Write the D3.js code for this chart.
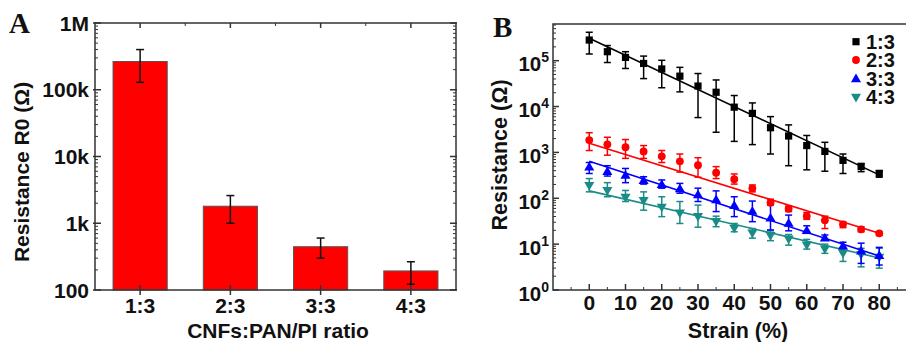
<!DOCTYPE html>
<html><head><meta charset="utf-8">
<script src="https://cdn.jsdelivr.net/npm/d3@7"></script>
<style>
body{margin:0;background:#fff;}
svg{display:block;}
text{font-family:"Liberation Sans",Arial,sans-serif;font-weight:bold;fill:#111;}
</style></head>
<body><svg id="c" width="906" height="342"></svg>
<script>
// ---------- Panel A data ----------
const catsA = ["1:3","2:3","3:3","4:3"];
const barVals = [265000, 1800, 445, 193];
const barErrHi = [400000, 2600, 600, 265];
const barErrLo = [129000, 1000, 300, 122];
const yTicksA = [100, 1000, 10000, 100000, 1000000];
const yTickLabelsA = ["100","1k","10k","100k","1M"];

// ---------- Panel B data ----------
const strain = [0,5,10,15,20,25,30,35,40,45,50,55,60,65,70,75,80];
const seriesNames = ["1:3","2:3","3:3","4:3"];
const seriesColors = ["#000000","#ff0000","#0000ff","#1a8c86"];
const seriesShapes = ["square","circle","triangle","triangleDown"];
const r13 = [282000,157000,118000,87000,66000,46000,28000,20500,9700,7100,3450,2280,1410,1050,670,490,350];
const r13Hi = [417000,214000,157000,126000,102000,71600,52500,38000,17400,12000,6030,3980,2340,1660,923,575,398];
const r13Lo = [140000,91200,67600,40700,25700,20900,5750,2750,1740,1480,923,513,417,389,347,380,288];
const r23 = [1860,1500,1300,1050,820,640,525,360,260,165,80,59,41,33,27,21,17.2];
const r23Hi = [2690,2140,1910,1410,1100,923,767,490,339,195,95.5,67.6,49,40.7,30.9,24,18.6];
const r23Lo = [1100,871,741,741,603,372,288,269,204,138,70.8,51.3,34.7,21.9,22.9,18.6,15.5];
const r33 = [490,390,323,250,205,165,122,95,71,53,38,29.3,20.3,13.9,9.3,7.2,5.8];
const r33Hi = [603,513,447,295,251,211,166,145,108,87,75,43,25.1,15.8,11,10.5,8.5];
const r33Lo = [347,305,219,204,166,129,85,51.3,39.8,30.9,20.4,19.5,17.2,12.3,8.1,3.8,3.5];
const r43 = [195,152,108,92,66,49,41,32,23,18,15.8,13.4,9.9,8.1,6.5,6.1,5.3];
const r43Hi = [269,219,148,138,108,85,71,40.7,28.2,21.9,19.5,16.2,12.7,10,8.1,8.1,8.1];
const r43Lo = [138,108,85,55,39.8,28.2,23.4,24,18.6,13.5,11.9,9.5,7.8,6.3,4.2,3.2,3.0];
const fitStrain = [0, 80];
const fit13 = [309000, 324];
const fit23 = [1580, 17.2];
const fit33 = [640, 5.5];
const fit43 = [145, 5.0];
const xTicksB = [0,10,20,30,40,50,60,70,80];
const yTicksB = [1,10,100,1000,10000,100000];
const yTickExpB = ["0","1","2","3","4","5"];

const svg = d3.select("#c");
svg.append("rect").attr("width",906).attr("height",342).attr("fill","#fff");
const axisColor = "#333";

// ================= Panel A =================
const A = {l:95, r:456, t:23, b:290};
const xA = d3.scaleBand().domain(catsA).range([A.l, A.r]).paddingInner(0.4).paddingOuter(0.2);
const yA = d3.scaleLog().domain([100, 1e6]).range([A.b, A.t]);
const gA = svg.append("g");

gA.selectAll("rect.bar").data(catsA).enter().append("rect")
  .attr("x", d=>xA(d)).attr("width", xA.bandwidth())
  .attr("y", (d,i)=>yA(barVals[i])).attr("height",(d,i)=>A.b - yA(barVals[i]))
  .attr("fill","#ff0000").attr("stroke","#555").attr("stroke-width",1);

catsA.forEach((c,i)=>{
  const cx = xA(c)+xA.bandwidth()/2;
  const g = gA.append("g").attr("stroke","#111").attr("stroke-width",1.5);
  g.append("line").attr("x1",cx).attr("x2",cx).attr("y1",yA(barErrHi[i])).attr("y2",yA(barErrLo[i]));
  g.append("line").attr("x1",cx-4).attr("x2",cx+4).attr("y1",yA(barErrHi[i])).attr("y2",yA(barErrHi[i]));
  g.append("line").attr("x1",cx-4).attr("x2",cx+4).attr("y1",yA(barErrLo[i])).attr("y2",yA(barErrLo[i]));
});

// frame
gA.append("rect").attr("x",A.l).attr("y",A.t).attr("width",A.r-A.l).attr("height",A.b-A.t)
  .attr("fill","none").attr("stroke",axisColor).attr("stroke-width",1.5);

const minorA = [];
for (let e=2;e<6;e++) for (let m=2;m<10;m++) minorA.push(m*Math.pow(10,e));
minorA.forEach(v=>{
  gA.append("line").attr("x1",A.l).attr("x2",A.l+3).attr("y1",yA(v)).attr("y2",yA(v)).attr("stroke",axisColor).attr("stroke-width",1);
  gA.append("line").attr("x1",A.r).attr("x2",A.r-3).attr("y1",yA(v)).attr("y2",yA(v)).attr("stroke",axisColor).attr("stroke-width",1);
});
yTicksA.forEach((v,i)=>{
  gA.append("line").attr("x1",A.l-2).attr("x2",A.l+6).attr("y1",yA(v)).attr("y2",yA(v)).attr("stroke",axisColor).attr("stroke-width",1.5);
  gA.append("line").attr("x1",A.r+1).attr("x2",A.r-6).attr("y1",yA(v)).attr("y2",yA(v)).attr("stroke",axisColor).attr("stroke-width",1.5);
  gA.append("text").attr("x",89).attr("y",yA(v)).attr("dy","0.36em").attr("text-anchor","end")
    .attr("font-size",21).text(yTickLabelsA[i]);
});
catsA.forEach((c,i)=>{
  const cx = xA(c)+xA.bandwidth()/2;
  gA.append("line").attr("x1",cx).attr("x2",cx).attr("y1",A.b-5).attr("y2",A.b+5).attr("stroke",axisColor).attr("stroke-width",1.5);
  gA.append("line").attr("x1",cx).attr("x2",cx).attr("y1",A.t).attr("y2",A.t+5).attr("stroke",axisColor).attr("stroke-width",1.5);
  gA.append("text").attr("x",cx).attr("y",313).attr("text-anchor","middle").attr("font-size",21).text(c);
});
for (let i=1;i<catsA.length;i++){
  const bx = A.l + (A.r-A.l)*i/catsA.length;
  gA.append("line").attr("x1",bx).attr("x2",bx).attr("y1",A.t).attr("y2",A.t+3).attr("stroke",axisColor).attr("stroke-width",1);
}
gA.append("text").attr("x",278).attr("y",338).attr("text-anchor","middle").attr("font-size",21).text("CNFs:PAN/PI ratio");
gA.append("text").attr("transform","translate(29,172) rotate(-90)").attr("text-anchor","middle").attr("font-size",21).text("Resistance R0 (Ω)");
gA.append("text").attr("x",9).attr("y",33).attr("font-size",29).style("font-family","'Liberation Serif','Times New Roman',serif").text("A");

// ================= Panel B =================
const B = {l:553, t:24, b:290};
const xB = d3.scaleLinear().domain([-10,90]).range([553, 553+362.5]);
const yB = d3.scaleLog().domain([1, Math.pow(10,5.8)]).range([B.b, B.t]);
const gB = svg.append("g");

gB.append("rect").attr("x",B.l).attr("y",B.t).attr("width",xB(90)-B.l).attr("height",B.b-B.t)
  .attr("fill","none").attr("stroke",axisColor).attr("stroke-width",1.5);

const minorB = [];
for (let e=0;e<6;e++) for (let m=2;m<10;m++){ const v=m*Math.pow(10,e); if (v<=Math.pow(10,5.8)) minorB.push(v);}
minorB.forEach(v=>{
  gB.append("line").attr("x1",B.l).attr("x2",B.l+3).attr("y1",yB(v)).attr("y2",yB(v)).attr("stroke",axisColor).attr("stroke-width",1);
});
yTicksB.forEach((v,i)=>{
  gB.append("line").attr("x1",B.l).attr("x2",B.l+6).attr("y1",yB(v)).attr("y2",yB(v)).attr("stroke",axisColor).attr("stroke-width",1.5);
  const t = gB.append("text").attr("x",549).attr("y",yB(v)+10.5).attr("text-anchor","end").attr("font-size",20.5);
  t.append("tspan").text("10");
  t.append("tspan").attr("font-size",14).attr("dy",-9).text(yTickExpB[i]);
});
d3.range(-5,90,10).forEach(v=>{
  gB.append("line").attr("x1",xB(v)).attr("x2",xB(v)).attr("y1",B.b).attr("y2",B.b-3).attr("stroke",axisColor).attr("stroke-width",1);
});
xTicksB.forEach(v=>{
  gB.append("line").attr("x1",xB(v)).attr("x2",xB(v)).attr("y1",B.b).attr("y2",B.b-6).attr("stroke",axisColor).attr("stroke-width",1.5);
  gB.append("text").attr("x",xB(v)).attr("y",310).attr("text-anchor","middle").attr("font-size",21).text(v);
});
gB.append("text").attr("x",738).attr("y",338).attr("text-anchor","middle").attr("font-size",21.5).text("Strain (%)");
gB.append("text").attr("transform","translate(507,155) rotate(-90)").attr("text-anchor","middle").attr("font-size",21.5).text("Resistance (Ω)");
gB.append("text").attr("x",493).attr("y",37).attr("font-size",29).style("font-family","'Liberation Serif','Times New Roman',serif").text("B");

const allVals = [r13,r23,r33,r43], allHi=[r13Hi,r23Hi,r33Hi,r43Hi], allLo=[r13Lo,r23Lo,r33Lo,r43Lo];
const allFit = [fit13,fit23,fit33,fit43];
const symType = {square:d3.symbolSquare, circle:d3.symbolCircle, triangle:d3.symbolTriangle, triangleDown:d3.symbolTriangle};
const symSize = {square:52, circle:48, triangle:44, triangleDown:44};
function marker(g, shape, x, y, color){
  const p = g.append("path").attr("d", d3.symbol().type(symType[shape]).size(symSize[shape])())
    .attr("fill",color);
  if (shape==="triangleDown") p.attr("transform",`translate(${x},${y}) rotate(180)`);
  else if (shape==="triangle") p.attr("transform",`translate(${x},${y+1})`);
  else p.attr("transform",`translate(${x},${y})`);
}
const line = d3.line().x(d=>xB(d[0])).y(d=>yB(d[1]));
[3,2,1,0].forEach(s=>{
  const col = seriesColors[s];
  const g = gB.append("g");
  g.append("path").attr("d", line(fitStrain.map((x,i)=>[x, allFit[s][i]]))).attr("stroke",col).attr("stroke-width",1.6).attr("fill","none");
  strain.forEach((x,i)=>{
    const cx = xB(x);
    const eg = g.append("g").attr("stroke",col).attr("stroke-width",1.5);
    eg.append("line").attr("x1",cx).attr("x2",cx).attr("y1",yB(allHi[s][i])).attr("y2",yB(allLo[s][i]));
    eg.append("line").attr("x1",cx-3.5).attr("x2",cx+3.5).attr("y1",yB(allHi[s][i])).attr("y2",yB(allHi[s][i]));
    eg.append("line").attr("x1",cx-3.5).attr("x2",cx+3.5).attr("y1",yB(allLo[s][i])).attr("y2",yB(allLo[s][i]));
    marker(g, seriesShapes[s], cx, yB(allVals[s][i]), col);
  });
});

// legend
seriesNames.forEach((n,i)=>{
  const y = 41.7 + i*18.3;
  marker(gB, seriesShapes[i], 856, y, seriesColors[i]);
  gB.append("text").attr("x",866).attr("y",y).attr("dy","0.36em").attr("font-size",20).text(n);
});
</script></body></html>
